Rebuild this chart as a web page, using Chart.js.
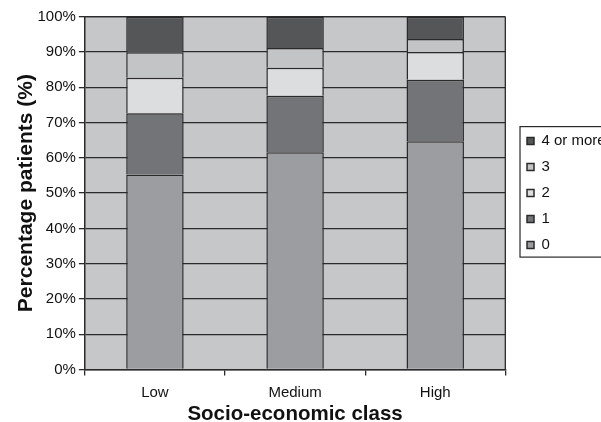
<!DOCTYPE html>
<html>
<head>
<meta charset="utf-8">
<script src="https://cdn.jsdelivr.net/npm/chart.js@4/dist/chart.umd.min.js"></script>
<style>
  html, body { margin: 0; padding: 0; overflow: hidden; background: #ffffff; width: 601px; height: 422px; }
  canvas { display: block; }
</style>
</head>
<body>
<canvas id="chart" width="620" height="422"></canvas>
<script>
// Share of patients (%) by number of events, per socio-economic class
const categories = ['Low', 'Medium', 'High'];
const seriesNames = ['0', '1', '2', '3', '4 or more'];
const share0 = [55.3, 61.6, 64.7];
const share1 = [17.3, 16.0, 17.4];
const share2 = [10.1, 7.9, 7.9];
const share3 = [7.2, 5.6, 3.7];
const share4plus = [10.1, 8.9, 6.3];
const yTickValues = [0, 10, 20, 30, 40, 50, 60, 70, 80, 90, 100];

const seriesValues = [share0, share1, share2, share3, share4plus];
const seriesColors = ['#9c9da1', '#737478', '#dcdddf', '#c3c4c6', '#555658'];

const INK = '#2a2a2a';
const TEXT = '#111111';
const FONT = "'Liberation Sans', Arial, sans-serif";
Chart.defaults.font.family = FONT;
Chart.defaults.color = TEXT;

// grey plot background plus the frame on the top and right edges
const plotFrame = {
  id: 'plotFrame',
  beforeDraw(chart) {
    const { ctx, chartArea: a } = chart;
    ctx.save();
    ctx.fillStyle = '#c6c7c9';
    ctx.fillRect(a.left, a.top, a.right - a.left, a.bottom - a.top);
    ctx.restore();
  },
  afterDatasetsDraw(chart) {
    const { ctx, chartArea: a } = chart;
    ctx.save();
    ctx.strokeStyle = INK;
    ctx.lineWidth = 1.3;
    ctx.beginPath();
    ctx.moveTo(a.right, a.top);
    ctx.lineTo(a.right, a.bottom);
    ctx.moveTo(a.left, a.top);
    ctx.lineTo(a.right, a.top);
    ctx.stroke();
    ctx.restore();
  }
};

// outline around the legend entries
const legendFrame = {
  id: 'legendFrame',
  afterDraw(chart) {
    const boxes = chart.legend && chart.legend.legendHitBoxes;
    if (!boxes || !boxes.length) return;
    const first = boxes[0];
    const last = boxes[boxes.length - 1];
    const top = first.top + first.height / 2 - 14.5;
    const bottom = last.top + last.height / 2 + 12;
    const left = first.left - 7;
    const { ctx } = chart;
    ctx.save();
    ctx.strokeStyle = INK;
    ctx.lineWidth = 1.2;
    ctx.strokeRect(left, top, chart.width + 20 - left, bottom - top);
    ctx.restore();
  }
};

new Chart(document.getElementById('chart'), {
  type: 'bar',
  data: {
    labels: categories,
    datasets: seriesNames.map((name, i) => ({
      label: name,
      data: seriesValues[i],
      backgroundColor: seriesColors[i],
      borderColor: INK,
      borderWidth: 1.5,
      categoryPercentage: 1,
      barPercentage: 0.41
    }))
  },
  options: {
    responsive: false,
    animation: false,
    layout: { padding: { top: 16.7, right: 4.3, bottom: 0, left: 0 } },
    plugins: {
      tooltip: { enabled: false },
      legend: {
        position: 'right',
        fullSize: false,
        reverse: true,
        labels: {
          boxWidth: 7,
          boxHeight: 7,
          padding: 11,
          color: TEXT,
          font: { size: 15 }
        }
      }
    },
    scales: {
      x: {
        stacked: true,
        offset: true,
        grid: {
          offset: true,
          drawOnChartArea: false,
          drawTicks: true,
          tickLength: 6,
          color: INK,
          lineWidth: 1.3
        },
        border: { display: true, color: INK, width: 1.5 },
        ticks: { color: TEXT, font: { size: 15 }, padding: 8 },
        title: {
          display: true,
          text: 'Socio-economic class',
          color: TEXT,
          font: { size: 20.5, weight: 'bold', lineHeight: 0.707 },
          padding: { top: -2, bottom: 0 }
        }
      },
      y: {
        stacked: true,
        min: 0,
        max: 100,
        afterBuildTicks(scale) {
          scale.ticks = yTickValues.map(v => ({ value: v }));
        },
        grid: {
          color: INK,
          lineWidth: 1.3,
          drawTicks: true,
          tickLength: 6
        },
        border: { display: true, color: INK, width: 1.5 },
        ticks: {
          color: TEXT,
          font: { size: 15 },
          padding: 3,
          callback: v => v + '%'
        },
        title: {
          display: true,
          text: 'Percentage patients (%)',
          color: TEXT,
          font: { size: 21, weight: 'bold', lineHeight: 1 },
          padding: { top: 15.5, bottom: -2 }
        }
      },
      // narrow empty band between the plot and the legend
      gap: {
        type: 'linear',
        position: 'right',
        display: true,
        grid: { display: false, drawTicks: false },
        border: { display: false },
        ticks: { display: false },
        afterFit(scale) { scale.width = 10.7; }
      }
    }
  },
  plugins: [plotFrame, legendFrame]
});
</script>
</body>
</html>
